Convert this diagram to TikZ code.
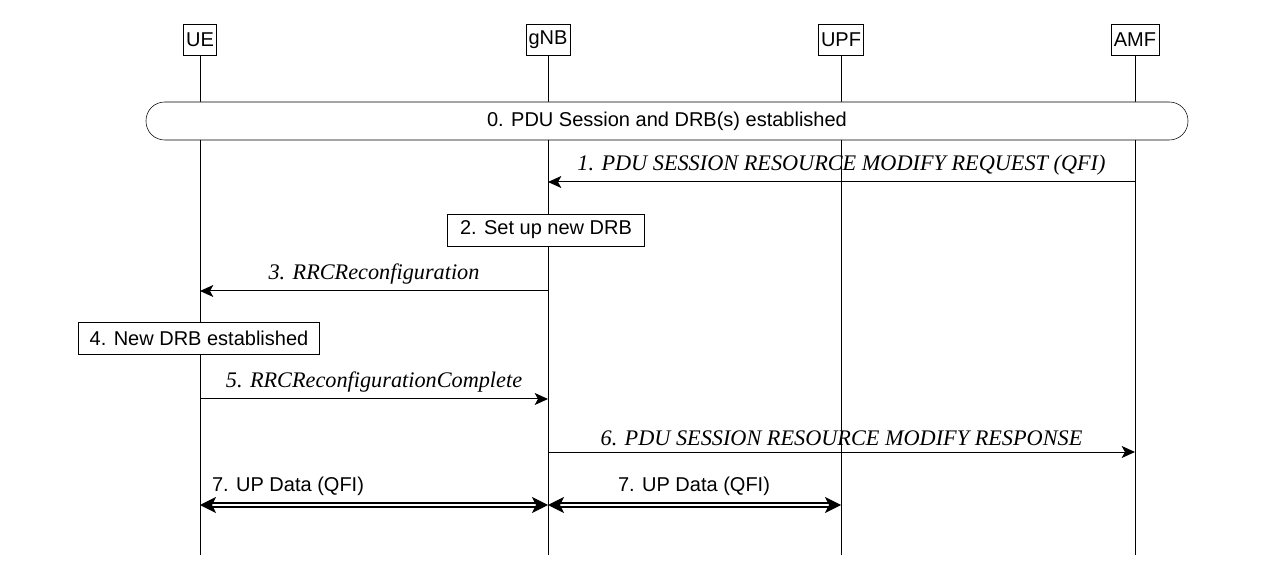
\documentclass[tikz,border=0pt]{standalone}
\usepackage{fontspec}
\setmainfont{Liberation Sans}
\newfontfamily\msgfont{Liberation Serif}
\usetikzlibrary{arrows.meta}
\begin{document}
\begin{tikzpicture}[x=0.75pt,y=-0.75pt,
  ent/.style={draw,fill=white,inner sep=2pt,minimum height=23pt,font=\fontsize{15}{17}\selectfont},
  box/.style={draw,fill=white,inner sep=3pt,minimum height=24pt,font=\fontsize{15}{17}\selectfont},
  life/.style={line width=0.75pt},
  msg/.style={-{Stealth[length=10pt,width=9pt,inset=2.5pt]},line width=0.75pt},
  lab/.style={font=\msgfont\itshape\fontsize{16.7}{19}\selectfont,anchor=south},
  dlab/.style={font=\fontsize{15}{17}\selectfont,anchor=south},
  dbl/.style={{Stealth[length=12pt,width=12pt,inset=3pt]}-{Stealth[length=12pt,width=12pt,inset=3pt]},double,double distance=2pt,line width=0.9pt}]
\useasboundingbox (0,0) rectangle (1268,570);
\node[ent] (ue) at (200,40) {UE};
\node[ent] (gnb) at (548,40) {gNB};
\node[ent] (upf) at (841,40) {UPF};
\node[ent] (amf) at (1135,40) {AMF};
\coordinate (ueE) at (200,555);
\coordinate (gnbE) at (548,555);
\coordinate (upfE) at (841,555);
\coordinate (amfE) at (1135,555);
\draw[life] (ue) -- (ueE);
\draw[life] (gnb) -- (gnbE);
\draw[life] (upf) -- (upfE);
\draw[life] (amf) -- (amfE);
\node[draw,fill=white,rounded corners=14pt,minimum width=1042*0.75pt,minimum height=38*0.75pt,font=\fontsize{15}{17}\selectfont] (s0) at (667,121) {0. PDU Session and DRB(s) established};
% 1
\coordinate (a1) at (1135,182); \coordinate (b1) at (548,182);
\draw[msg] (a1) -- (b1) node[lab,midway,yshift=1pt] {1. PDU SESSION RESOURCE MODIFY REQUEST (QFI)};
\node[box,minimum width=197*0.75pt] (s2) at (546,230) {2. Set up new DRB};
% 3
\coordinate (a3) at (548,291); \coordinate (b3) at (200,291);
\draw[msg] (a3) -- (b3) node[lab,midway,yshift=1pt] {3. RRCReconfiguration};
\node[box,minimum width=241*0.75pt] (s4) at (199,338) {4. New DRB established};
% 5
\coordinate (a5) at (200,399); \coordinate (b5) at (548,399);
\draw[msg] (a5) -- (b5) node[lab,midway,yshift=1pt] {5. RRCReconfigurationComplete};
% 6
\coordinate (a6) at (548,452); \coordinate (b6) at (1135,452);
\draw[msg] (a6) -- (b6) node[lab,midway,yshift=1pt] {6. PDU SESSION RESOURCE MODIFY RESPONSE};
% 7
\coordinate (a7) at (200,505); \coordinate (b7) at (548,505); \coordinate (c7) at (841,505);
\draw[dbl] (a7) -- (b7);
\node[dlab] at (288,500) {7. UP Data (QFI)};
\draw[dbl] (b7) -- (c7);
\node[dlab] at (694,500) {7. UP Data (QFI)};
\end{tikzpicture}
\end{document}
